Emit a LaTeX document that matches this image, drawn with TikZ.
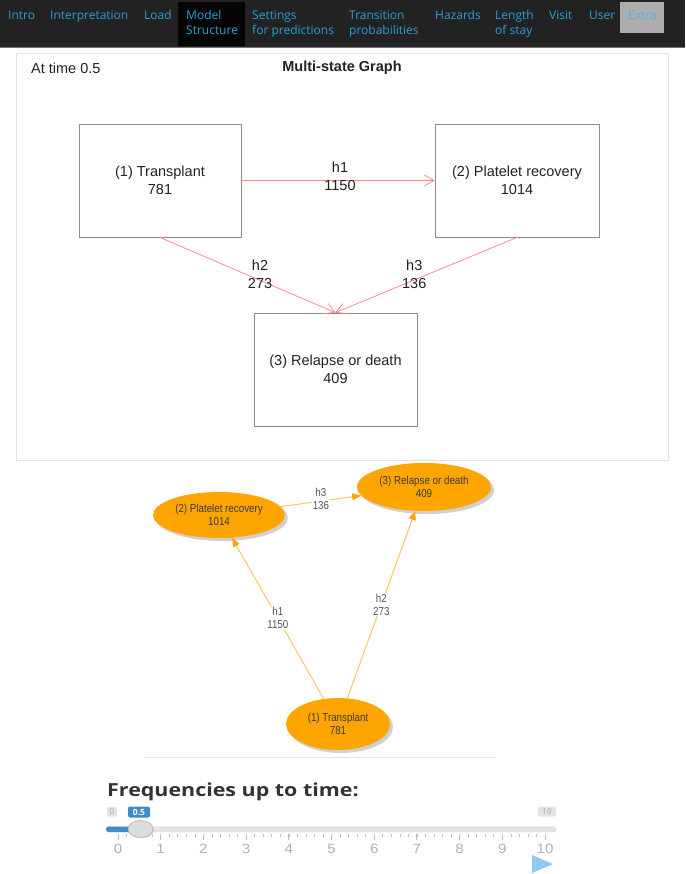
\documentclass[tikz,border=0pt]{standalone}
\usepackage{fontspec}
\usepackage{graphicx}
\setmainfont{Liberation Sans}
\newfontfamily\navfont{Open Sans}
\usetikzlibrary{arrows.meta,shapes.geometric,shadows}
\definecolor{navbg}{HTML}{222222}
\definecolor{navtxt}{HTML}{2A9FD6}
\definecolor{extrabg}{HTML}{ADADAD}
\definecolor{extratxt}{HTML}{4FB3EA}
\definecolor{panelborder}{HTML}{E2E2E2}
\definecolor{boxborder}{HTML}{8C8C8C}
\definecolor{redarr}{HTML}{FF8080}
\definecolor{gtext}{HTML}{222222}
\definecolor{vorange}{HTML}{FFA500}
\definecolor{vedgec}{HTML}{FFC466}
\definecolor{vlabel}{HTML}{555555}
\definecolor{vtext}{HTML}{3A3A3A}
\definecolor{hrc}{HTML}{E3E3E3}
\definecolor{sblue}{HTML}{428BCA}
\definecolor{trackc}{HTML}{E4E4E4}
\definecolor{handlec}{HTML}{DCDCDC}
\definecolor{tickc}{HTML}{A8A8A8}
\definecolor{majtick}{HTML}{9CC6EA}
\definecolor{playc}{HTML}{8CCBEE}
\definecolor{gridlbl}{HTML}{E1E4E9}
\newcommand{\vnl}[1]{\scalebox{0.85}[1]{#1}}
\newcommand{\wide}[1]{\scalebox{1.19}[1]{#1}}
\begin{document}
\begin{tikzpicture}[x=1pt,y=-1pt,
  navitem/.style={anchor=north west, inner sep=0pt, align=left, text=navtxt,
    font=\navfont\fontsize{12}{15}\selectfont},
  gtxt/.style={text=gtext, font=\fontsize{14.5}{18}\selectfont},
  sbox/.style={draw=boxborder, line width=0.8pt, align=center, text=gtext,
    font=\fontsize{14.5}{18}\selectfont},
  glbl/.style={align=center, text=gtext, font=\fontsize{14.5}{18}\selectfont},
  redline/.style={draw=redarr, line width=0.7pt, -{Straight Barb[angle=60:11pt]}},
  vnode/.style={ellipse, fill=vorange, align=center, text=vtext, inner sep=0pt,
    font=\fontsize{11.5}{13.5}\selectfont,
    drop shadow={shadow xshift=3pt, shadow yshift=-3pt, opacity=0.3, fill=black!60}},
  vedge/.style={draw=vedgec, line width=1pt,
    -{Triangle[length=9pt,width=7pt,fill=vorange,color=vorange]}},
  vlbl/.style={align=center, text=vlabel, fill=white, inner sep=0.5pt,
    font=\fontsize{11.5}{13}\selectfont},
  pill/.style={rounded corners=2pt, inner sep=0pt, minimum height=10pt,
    font=\navfont\fontsize{8}{8}\selectfont},
  ticklbl/.style={text=tickc!90, anchor=base, inner sep=0pt, font=\fontsize{13.5}{13.5}\selectfont}
]
\useasboundingbox (0,0) rectangle (685,874);
\fill[white] (0,0) rectangle (685,874);

% ---------------- navigation bar ----------------
\fill[navbg] (0,0) rectangle (685,47.5);
\draw[black!55, line width=0.8pt] (0,47.5) -- (685,47.5);
\fill[black!98] (178,2) rectangle (245,46.5);
\fill[extrabg] (620,2) rectangle (664,33);
\node[navitem] (intro) at (8,10.5) {Intro};
\node[navitem] (interp) at (50,10.5) {Interpretation};
\node[navitem] (load) at (144,10.5) {Load};
\node[navitem] (model) at (186,10.5) {Model\\Structure};
\node[navitem] (settings) at (252,10.5) {Settings\\for predictions};
\node[navitem] (trans) at (349,10.5) {Transition\\probabilities};
\node[navitem] (haz) at (435,10.5) {Hazards};
\node[navitem] (los) at (495,10.5) {Length\\of stay};
\node[navitem] (visit) at (549,10.5) {Visit};
\node[navitem] (user) at (589,10.5) {User};
\node[navitem, text=extratxt] (extra) at (628,10.5) {Extra};

% ---------------- multi-state graph panel ----------------
\draw[panelborder, line width=0.8pt] (16,53) rectangle (668,460);
\node[gtxt, anchor=west, inner sep=0pt] (attime) at (31,68) {At time 0.5};
\node[gtxt, font=\bfseries\fontsize{14.5}{18}\selectfont] (title) at (342,68) {Multi-state Graph};

\node[sbox, minimum width=162pt, minimum height=113pt] (b1) at (160,180.5) {(1) Transplant\\781};
\node[sbox, minimum width=164pt, minimum height=113pt] (b2) at (517,180.5) {(2) Platelet recovery\\1014};
\node[sbox, minimum width=163pt, minimum height=113pt] (b3) at (335.5,369.5) {(3) Relapse or death\\409};

\draw[redline] (b1) -- (b2) node[pos=0.5, glbl, yshift=4.5pt, xshift=2pt] {h1\\1150};
\draw[redline] (b1.south) -- (b3.north) node[pos=0.57, glbl, yshift=6pt] {h2\\273};
\draw[redline] (b2.south) -- (b3.north) node[pos=0.566, glbl, yshift=5.5pt] {h3\\136};

% ---------------- network graph ----------------
\node[vnode, minimum width=132pt, minimum height=46pt] (e2) at (219,515) {\vnl{(2) Platelet recovery}\\\vnl{1014}};
\node[vnode, minimum width=134pt, minimum height=48pt] (e3) at (424,487) {\vnl{(3) Relapse or death}\\\vnl{409}};
\node[vnode, minimum width=104pt, minimum height=52pt] (e1) at (338,724) {\vnl{(1) Transplant}\\\vnl{781}};

\draw[vedge] (e1) -- (e2) node[pos=0.5, vlbl] {\vnl{h1}\\\vnl{1150}};
\draw[vedge] (e1) -- (e3) node[pos=0.5, vlbl] {\vnl{h2}\\\vnl{273}};
\draw[vedge] (e2) -- (e3) node[pos=0.5, vlbl, yshift=2pt] {\vnl{h3}\\\vnl{136}};

\draw[hrc, line width=1pt] (145,757.5) -- (495,757.5);

% ---------------- slider ----------------
\node[anchor=base west, inner sep=0pt, text=black!80,
  font=\navfont\bfseries\fontsize{18}{18}\selectfont] (freq) at (107,796) {\wide{Frequencies up to time:}};

\node[pill, fill=gridlbl, text=tickc, minimum width=10pt] (lo) at (112,811.5) {0};
\node[pill, fill=sblue, text=white, minimum width=22pt, minimum height=11pt,
  font=\navfont\bfseries\fontsize{8.5}{8.5}\selectfont] (cur) at (139,812) {0.5};
\node[pill, fill=gridlbl, text=tickc, minimum width=18pt] (hi) at (547,811.5) {10};

\fill[trackc, rounded corners=2.7pt] (106,826.5) rectangle (556,832);
\draw[black!15, line width=0.4pt, rounded corners=2.7pt] (106,826.5) rectangle (556,832);
\fill[sblue, rounded corners=2.7pt] (106,826.5) rectangle (141,832);

\foreach \i in {0,...,49} {
  \draw[tickc!70, line width=0.6pt] ({118+\i*8.54},833.5) -- ({118+\i*8.54},837);
}
\foreach \i in {0,...,10} {
  \draw[majtick, line width=0.9pt] ({118+\i*42.7},833.5) -- ({118+\i*42.7},840);
  \node[ticklbl] (tl\i) at ({118+\i*42.7},853) {\scalebox{1.12}[1]{\i}};
}
\node[ellipse, fill=handlec, draw=black!30, line width=0.6pt, minimum width=25pt,
  minimum height=17pt, inner sep=0pt,
  drop shadow={shadow xshift=0.8pt, shadow yshift=-1pt, opacity=0.25}] (handle) at (140.5,829) {};

\fill[playc] (532,855) -- (553,864) -- (532,873) -- cycle;
\end{tikzpicture}
\end{document}
